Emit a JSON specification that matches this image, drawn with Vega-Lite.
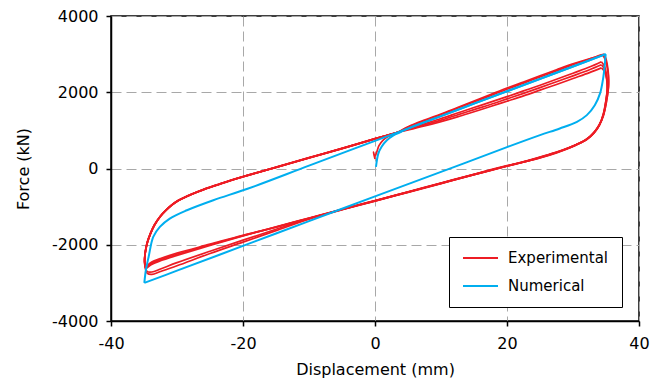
{
  "$schema": "https://vega.github.io/schema/vega-lite/v6.json",
  "width": 528,
  "height": 305,
  "autosize": {"type": "none"},
  "padding": {"left": 111, "top": 16, "right": 19, "bottom": 61},
  "background": "white",
  "config": {
    "font": "DejaVu Sans",
    "view": {"stroke": "black", "strokeWidth": 1.5},
    "axis": {
      "domainColor": "black", "domainWidth": 1.5,
      "tickColor": "black", "tickSize": 5, "tickWidth": 1.5,
      "labelFontSize": 16, "labelColor": "black", "labelFont": "DejaVu Sans", "labelFlush": false,
      "labelExpr": "'' + datum.value",
      "titleFontSize": 16, "titleFontWeight": "normal", "titleColor": "black", "titleFont": "DejaVu Sans",
      "gridColor": "#A8A8A8", "gridDash": [10, 5], "gridWidth": 1
    }
  },
  "datasets": {
    "exp": [
      {"b":1,"x":0.0,"y":250},{"b":1,"x":-0.25,"y":430},{"b":1,"x":0.0,"y":320},{"b":1,"x":0.3,"y":450},{"b":1,"x":0.6,"y":600},{"b":1,"x":1.2,"y":740},{"b":1,"x":2.0,"y":840},{"b":1,"x":3.3,"y":935},
      {"b":1,"x":5,"y":1080},{"b":1,"x":7.5,"y":1250},{"b":1,"x":10,"y":1410},{"b":1,"x":12.5,"y":1580},{"b":1,"x":15,"y":1745},{"b":1,"x":17.5,"y":1910},{"b":1,"x":20,"y":2080},{"b":1,"x":22.5,"y":2240},{"b":1,"x":25,"y":2400},{"b":1,"x":27.5,"y":2560},{"b":1,"x":30,"y":2720},{"b":1,"x":32.5,"y":2870},{"b":1,"x":34.3,"y":2980},{"b":1,"x":34.7,"y":3000},

      {"b":2,"x":34.7,"y":3000},{"b":2,"x":35.0,"y":2880},{"b":2,"x":35.3,"y":2600},{"b":2,"x":35.4,"y":2300},{"b":2,"x":35.3,"y":2000},{"b":2,"x":35.0,"y":1700},{"b":2,"x":34.6,"y":1380},{"b":2,"x":33.9,"y":1120},{"b":2,"x":33.0,"y":900},{"b":2,"x":32.0,"y":760},{"b":2,"x":30.0,"y":580},{"b":2,"x":27.5,"y":410},{"b":2,"x":25,"y":280},{"b":2,"x":22.5,"y":170},{"b":2,"x":20,"y":65},{"b":2,"x":15,"y":-160},{"b":2,"x":10,"y":-390},{"b":2,"x":5,"y":-620},{"b":2,"x":0,"y":-850},{"b":2,"x":-5,"y":-1080},{"b":2,"x":-10,"y":-1330},{"b":2,"x":-15,"y":-1630},{"b":2,"x":-20,"y":-1930},{"b":2,"x":-25,"y":-2230},{"b":2,"x":-30,"y":-2550},{"b":2,"x":-32.5,"y":-2700},{"b":2,"x":-33.8,"y":-2775},{"b":2,"x":-34.5,"y":-2750},{"b":2,"x":-34.8,"y":-2620},
      {"b":2,"x":-34.9,"y":-2450},{"b":2,"x":-34.8,"y":-2200},{"b":2,"x":-34.5,"y":-1950},{"b":2,"x":-34.0,"y":-1700},{"b":2,"x":-33.4,"y":-1480},{"b":2,"x":-32.5,"y":-1250},{"b":2,"x":-31.7,"y":-1100},{"b":2,"x":-30.8,"y":-960},{"b":2,"x":-29.8,"y":-840},{"b":2,"x":-28.5,"y":-730},{"b":2,"x":-27,"y":-620},{"b":2,"x":-25.5,"y":-520},{"b":2,"x":-24,"y":-435},{"b":2,"x":-22,"y":-320},{"b":2,"x":-19.2,"y":-175},{"b":2,"x":-15,"y":35},{"b":2,"x":-10,"y":285},{"b":2,"x":-5,"y":530},{"b":2,"x":0,"y":785},{"b":2,"x":3.3,"y":945},
      {"b":2,"x":5,"y":1095},{"b":2,"x":7.5,"y":1270},{"b":2,"x":10,"y":1430},{"b":2,"x":12.5,"y":1600},{"b":2,"x":15,"y":1770},{"b":2,"x":17.5,"y":1940},{"b":2,"x":20,"y":2110},{"b":2,"x":22.5,"y":2270},{"b":2,"x":25,"y":2430},{"b":2,"x":27.5,"y":2590},{"b":2,"x":30,"y":2745},{"b":2,"x":32.5,"y":2880},{"b":2,"x":34.2,"y":2960},{"b":2,"x":34.5,"y":2975},

      {"b":3,"x":34.5,"y":2975},{"b":3,"x":34.9,"y":2850},{"b":3,"x":35.3,"y":2520},{"b":3,"x":35.4,"y":2220},{"b":3,"x":35.2,"y":1900},{"b":3,"x":34.9,"y":1600},{"b":3,"x":34.4,"y":1300},{"b":3,"x":33.7,"y":1060},{"b":3,"x":32.7,"y":860},{"b":3,"x":31.5,"y":710},{"b":3,"x":29.5,"y":550},{"b":3,"x":27,"y":390},{"b":3,"x":24.5,"y":260},{"b":3,"x":22,"y":150},{"b":3,"x":20,"y":75},{"b":3,"x":15,"y":-150},{"b":3,"x":10,"y":-380},{"b":3,"x":5,"y":-610},{"b":3,"x":0,"y":-840},{"b":3,"x":-5,"y":-1070},{"b":3,"x":-10,"y":-1315},{"b":3,"x":-15,"y":-1595},{"b":3,"x":-20,"y":-1880},{"b":3,"x":-25,"y":-2170},{"b":3,"x":-30,"y":-2470},{"b":3,"x":-32.5,"y":-2635},{"b":3,"x":-33.8,"y":-2715},{"b":3,"x":-34.5,"y":-2705},{"b":3,"x":-34.8,"y":-2580},
      {"b":3,"x":-34.9,"y":-2420},{"b":3,"x":-34.8,"y":-2180},{"b":3,"x":-34.5,"y":-1930},{"b":3,"x":-34.0,"y":-1690},{"b":3,"x":-33.4,"y":-1470},{"b":3,"x":-32.5,"y":-1245},{"b":3,"x":-31.7,"y":-1095},{"b":3,"x":-30.8,"y":-955},{"b":3,"x":-29.8,"y":-835},{"b":3,"x":-28.5,"y":-725},{"b":3,"x":-27,"y":-615},{"b":3,"x":-25.5,"y":-515},{"b":3,"x":-24,"y":-430},{"b":3,"x":-22,"y":-315},{"b":3,"x":-19.2,"y":-170},{"b":3,"x":-15,"y":25},{"b":3,"x":-10,"y":275},{"b":3,"x":-5,"y":520},{"b":3,"x":0,"y":775},{"b":3,"x":3.3,"y":940},
      {"b":3,"x":5,"y":1040},{"b":3,"x":7.5,"y":1175},{"b":3,"x":10,"y":1310},{"b":3,"x":12.5,"y":1455},{"b":3,"x":15,"y":1600},{"b":3,"x":17.5,"y":1740},{"b":3,"x":20,"y":1885},{"b":3,"x":22.5,"y":2035},{"b":3,"x":25,"y":2185},{"b":3,"x":27.5,"y":2340},{"b":3,"x":30,"y":2500},{"b":3,"x":32.5,"y":2660},{"b":3,"x":34.3,"y":2800},

      {"b":4,"x":34.3,"y":2800},{"b":4,"x":34.8,"y":2670},{"b":4,"x":35.1,"y":2420},{"b":4,"x":35.2,"y":2120},{"b":4,"x":35.0,"y":1800},{"b":4,"x":34.6,"y":1440},{"b":4,"x":34.0,"y":1150},{"b":4,"x":33.2,"y":950},{"b":4,"x":32.1,"y":770},{"b":4,"x":30.5,"y":630},{"b":4,"x":28.5,"y":490},{"b":4,"x":26,"y":350},{"b":4,"x":23,"y":200},{"b":4,"x":20,"y":70},{"b":4,"x":15,"y":-155},{"b":4,"x":10,"y":-385},{"b":4,"x":5,"y":-615},{"b":4,"x":0,"y":-845},{"b":4,"x":-5,"y":-1070},{"b":4,"x":-10,"y":-1300},{"b":4,"x":-15,"y":-1530},{"b":4,"x":-20,"y":-1770},{"b":4,"x":-25,"y":-2020},{"b":4,"x":-30,"y":-2280},{"b":4,"x":-32.5,"y":-2420},{"b":4,"x":-34,"y":-2530},{"b":4,"x":-34.7,"y":-2620},{"b":4,"x":-34.9,"y":-2490},
      {"b":4,"x":-34.8,"y":-2210},{"b":4,"x":-34.5,"y":-1960},{"b":4,"x":-34.0,"y":-1710},{"b":4,"x":-33.4,"y":-1490},{"b":4,"x":-32.5,"y":-1255},{"b":4,"x":-31.7,"y":-1105},{"b":4,"x":-30.8,"y":-965},{"b":4,"x":-29.8,"y":-845},{"b":4,"x":-28.5,"y":-735},{"b":4,"x":-27,"y":-625},{"b":4,"x":-25.5,"y":-525},{"b":4,"x":-24,"y":-440},{"b":4,"x":-22,"y":-325},{"b":4,"x":-19.2,"y":-180},{"b":4,"x":-15,"y":30},{"b":4,"x":-10,"y":280},{"b":4,"x":-5,"y":525},{"b":4,"x":0,"y":780},{"b":4,"x":3.3,"y":942},
      {"b":4,"x":5,"y":1025},{"b":4,"x":7.5,"y":1145},{"b":4,"x":10,"y":1270},{"b":4,"x":12.5,"y":1405},{"b":4,"x":15,"y":1545},{"b":4,"x":17.5,"y":1680},{"b":4,"x":20,"y":1825},{"b":4,"x":22.5,"y":1970},{"b":4,"x":25,"y":2120},{"b":4,"x":27.5,"y":2275},{"b":4,"x":30,"y":2430},{"b":4,"x":32.5,"y":2590},{"b":4,"x":34.3,"y":2720},

      {"b":5,"x":34.3,"y":2720},{"b":5,"x":34.8,"y":2600},{"b":5,"x":35.1,"y":2380},{"b":5,"x":35.2,"y":2100},{"b":5,"x":35.0,"y":1780},{"b":5,"x":34.6,"y":1420},{"b":5,"x":34.0,"y":1140},{"b":5,"x":33.2,"y":940},{"b":5,"x":32.1,"y":765},{"b":5,"x":30.5,"y":625},{"b":5,"x":28.5,"y":485},{"b":5,"x":26,"y":345},{"b":5,"x":23,"y":195},{"b":5,"x":20,"y":65},{"b":5,"x":15,"y":-160},{"b":5,"x":10,"y":-390},{"b":5,"x":5,"y":-620},{"b":5,"x":0,"y":-850},{"b":5,"x":-5,"y":-1075},{"b":5,"x":-10,"y":-1305},{"b":5,"x":-15,"y":-1535},{"b":5,"x":-20,"y":-1760},{"b":5,"x":-25,"y":-2000},{"b":5,"x":-30,"y":-2250},{"b":5,"x":-32.5,"y":-2390},{"b":5,"x":-34,"y":-2500},{"b":5,"x":-34.7,"y":-2590},{"b":5,"x":-34.9,"y":-2470},
      {"b":5,"x":-34.8,"y":-2190},{"b":5,"x":-34.5,"y":-1940},{"b":5,"x":-34.0,"y":-1700},{"b":5,"x":-33.4,"y":-1480},{"b":5,"x":-32.5,"y":-1250},{"b":5,"x":-31.7,"y":-1100},{"b":5,"x":-30.8,"y":-962},{"b":5,"x":-29.8,"y":-842},{"b":5,"x":-28.5,"y":-732},{"b":5,"x":-27,"y":-622},{"b":5,"x":-25.5,"y":-522},{"b":5,"x":-24,"y":-437},{"b":5,"x":-22,"y":-322},{"b":5,"x":-19.2,"y":-177},{"b":5,"x":-15,"y":32},{"b":5,"x":-10,"y":282},{"b":5,"x":-5,"y":527},{"b":5,"x":0,"y":782},{"b":5,"x":3.3,"y":943},
      {"b":5,"x":5,"y":1010},{"b":5,"x":7.5,"y":1115},{"b":5,"x":10,"y":1230},{"b":5,"x":12.5,"y":1355},{"b":5,"x":15,"y":1490},{"b":5,"x":17.5,"y":1625},{"b":5,"x":20,"y":1765},{"b":5,"x":22.5,"y":1905},{"b":5,"x":25,"y":2055},{"b":5,"x":27.5,"y":2205},{"b":5,"x":30,"y":2360},{"b":5,"x":32.5,"y":2515},{"b":5,"x":34.3,"y":2640},

      {"b":6,"x":34.3,"y":2640},{"b":6,"x":34.8,"y":2540},{"b":6,"x":35.1,"y":2340},{"b":6,"x":35.2,"y":2080},{"b":6,"x":35.0,"y":1760},{"b":6,"x":34.6,"y":1400},{"b":6,"x":34.0,"y":1130},{"b":6,"x":33.2,"y":935},{"b":6,"x":32.1,"y":760},{"b":6,"x":30.5,"y":620},{"b":6,"x":28.5,"y":480},{"b":6,"x":26,"y":340},{"b":6,"x":23,"y":190},{"b":6,"x":20,"y":60},{"b":6,"x":15,"y":-165},{"b":6,"x":10,"y":-395},{"b":6,"x":5,"y":-625},{"b":6,"x":0,"y":-855},{"b":6,"x":-5,"y":-1080},{"b":6,"x":-10,"y":-1310},{"b":6,"x":-15,"y":-1540},{"b":6,"x":-20,"y":-1750},{"b":6,"x":-25,"y":-1985},{"b":6,"x":-30,"y":-2220},{"b":6,"x":-32.5,"y":-2360},{"b":6,"x":-34,"y":-2470},{"b":6,"x":-34.7,"y":-2560},{"b":6,"x":-34.9,"y":-2440},
      {"b":6,"x":-34.8,"y":-2180},{"b":6,"x":-34.5,"y":-1935},{"b":6,"x":-34.0,"y":-1695},{"b":6,"x":-33.4,"y":-1475},{"b":6,"x":-32.5,"y":-1248},{"b":6,"x":-31.7,"y":-1098},{"b":6,"x":-30.8,"y":-958},{"b":6,"x":-29.8,"y":-838},{"b":6,"x":-28.5,"y":-728},{"b":6,"x":-27,"y":-618},{"b":6,"x":-25.5,"y":-518},{"b":6,"x":-24,"y":-433},{"b":6,"x":-22,"y":-318},{"b":6,"x":-19.2,"y":-173},{"b":6,"x":-15,"y":28},{"b":6,"x":-10,"y":278},{"b":6,"x":-5,"y":523},{"b":6,"x":0,"y":778},{"b":6,"x":3.3,"y":938}
    ],
    "num": [
      {"b":1,"x":0.15,"y":40},{"b":1,"x":0.5,"y":390},{"b":1,"x":1.0,"y":570},{"b":1,"x":1.8,"y":740},{"b":1,"x":2.8,"y":870},{"b":1,"x":3.8,"y":950},{"b":1,"x":5,"y":1045},{"b":1,"x":7.5,"y":1215},{"b":1,"x":10,"y":1375},{"b":1,"x":15,"y":1700},{"b":1,"x":20,"y":2025},{"b":1,"x":25,"y":2350},{"b":1,"x":30,"y":2675},{"b":1,"x":34.95,"y":3000},
      {"b":2,"x":34.95,"y":3000},{"b":2,"x":34.8,"y":2700},{"b":2,"x":34.6,"y":2405},{"b":2,"x":34.1,"y":1970},{"b":2,"x":33.3,"y":1660},{"b":2,"x":32.1,"y":1400},{"b":2,"x":30.6,"y":1225},{"b":2,"x":28,"y":1050},{"b":2,"x":25,"y":875},{"b":2,"x":20,"y":560},{"b":2,"x":10,"y":-90},{"b":2,"x":0,"y":-730},{"b":2,"x":-10,"y":-1380},{"b":2,"x":-20,"y":-2030},{"b":2,"x":-30,"y":-2680},{"b":2,"x":-34.95,"y":-3000},
      {"b":3,"x":-34.95,"y":-3000},{"b":3,"x":-34.7,"y":-2650},{"b":3,"x":-34.3,"y":-2320},{"b":3,"x":-33.6,"y":-1795},{"b":3,"x":-32.6,"y":-1533},{"b":3,"x":-31.1,"y":-1313},{"b":3,"x":-28.5,"y":-1095},{"b":3,"x":-24.5,"y":-832},{"b":3,"x":-19.2,"y":-525},{"b":3,"x":-10,"y":75},{"b":3,"x":0,"y":725},{"b":3,"x":10,"y":1375},{"b":3,"x":20,"y":2025},{"b":3,"x":30,"y":2675},{"b":3,"x":34.95,"y":3000}
    ]
  },
  "layer": [
    {
      "data": {"name": "exp"},
      "mark": {"type": "line", "strokeWidth": 1.7, "interpolate": "catmull-rom"},
      "encoding": {
        "x": {"field": "x", "type": "quantitative", "scale": {"domain": [-40, 40]},
              "axis": {"values": [-40, -20, 0, 20, 40], "title": "Displacement (mm)", "labelPadding": 9, "titlePadding": 10, "grid": true}},
        "y": {"field": "y", "type": "quantitative", "scale": {"domain": [-4000, 4000]},
              "axis": {"values": [-4000, -3000, -2000, -1000, 0, 1000, 2000, 3000, 4000], "title": "Force (kN)", "labelPadding": 8, "titlePadding": 20, "grid": true}},
        "color": {"datum": "Experimental", "type": "nominal",
                  "scale": {"domain": ["Experimental", "Numerical"], "range": ["#ED1C24", "#00AEEF"]},
                  "legend": {"orient": "none", "legendX": 338, "legendY": 221, "title": null,
                             "strokeColor": "black", "fillColor": "white", "padding": 13,
                             "labelFontSize": 15, "labelColor": "black", "labelFont": "DejaVu Sans", "labelOffset": 9, "labelLimit": 300,
                             "symbolType": "stroke", "symbolSize": 1225, "symbolStrokeWidth": 2, "clipHeight": 16, "rowPadding": 12}},
        "detail": {"field": "b", "type": "nominal"},
        "order": {"value": null}
      }
    },
    {
      "data": {"name": "num"},
      "mark": {"type": "line", "strokeWidth": 2, "interpolate": "catmull-rom"},
      "encoding": {
        "x": {"field": "x", "type": "quantitative"},
        "y": {"field": "y", "type": "quantitative"},
        "color": {"datum": "Numerical", "type": "nominal"},
        "detail": {"field": "b", "type": "nominal"},
        "order": {"value": null}
      }
    }
  ]
}
